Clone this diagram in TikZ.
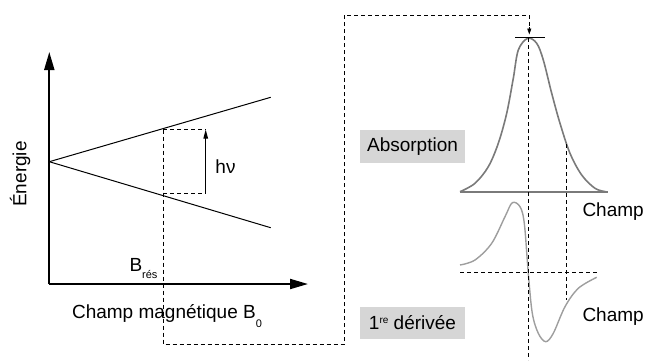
\documentclass[tikz,border=0pt]{standalone}
\usepackage{fontspec}
\setmainfont{Liberation Sans}
\usetikzlibrary{arrows.meta}
\begin{document}
\begin{tikzpicture}[x=1pt,y=-1pt,
  lbl/.style={font=\fontsize{19}{22}\selectfont, inner sep=0pt},
  boxlbl/.style={font=\fontsize{19}{22}\selectfont, fill=black!16, minimum width=105pt, minimum height=32.7pt, inner sep=0pt},
  dsh/.style={dash pattern=on 4pt off 3pt, line width=0.8pt},
  axisline/.style={line width=2pt, -{Triangle[length=18pt,width=10pt]}},
  level/.style={line width=1pt},
  absc/.style={draw=black!52, line width=1.6pt},
  derc/.style={draw=black!38, line width=1.4pt}
]
\useasboundingbox (0,0) rectangle (646,360);

% axes
\coordinate (O) at (49.3,284);
\coordinate (ytop) at (49.3,52);
\coordinate (xend) at (308,284);
\draw[axisline] (O) -- (ytop);
\draw[axisline] (O) -- (xend);

% energy levels
\coordinate (z) at (49.3,161.7);
\coordinate (up) at (270.7,97.3);
\coordinate (lo) at (270.7,227.7);
\draw[level] (z) -- (up);
\draw[level] (z) -- (lo);

% resonance rectangle and h nu arrow
\coordinate (r1) at (163.3,129.5);
\coordinate (r2) at (205.7,129.5);
\coordinate (r3) at (205.7,193.3);
\coordinate (r4) at (163.3,193.3);
\draw[dsh] (r1) -- (r2);
\draw[dsh] (r4) -- (r3);
\draw[line width=1pt, -{Triangle[length=9pt,width=4.5pt]}] (r3) -- (r2);

% dashed connector to the spectrum
\coordinate (c1) at (163.3,344.3);
\coordinate (c2) at (344.3,344.3);
\coordinate (c3) at (344.3,15);
\coordinate (c4) at (529.3,15);
\coordinate (c5) at (529.3,34.5);
\draw[dsh] (r1) -- (c1) -- (c2) -- (c3) -- (c4) -- (c5);
\draw[line width=0.8pt, -{Triangle[length=6pt,width=4pt]}] (529.3,27) -- (c5);

% labels left
\node[lbl, rotate=90] (en) at (20,174) {Énergie};
\node[lbl] (hv) at (225.5,167) {hν};
\node[lbl, anchor=base west] (bres) at (129.3,271.7) {B\raisebox{-6.6pt}{\fontsize{11}{12}\selectfont rés}};
\node[lbl, anchor=base] (champB) at (167,318.3) {Champ magnétique B\raisebox{-9pt}{\fontsize{11}{12}\selectfont 0}};

% absorption curve
\coordinate (b1) at (460,191.7);
\coordinate (b2) at (608.3,191.7);
\draw[draw=black!52, line width=1.6pt] (b1) -- (b2);
\draw[absc] plot[smooth, tension=0.55] coordinates {(460,191.7) (475,183.3) (488.3,166.7) (498.3,143.3) (506.7,113.3) (513.3,78.3) (518.3,50) (527.7,38.3) (536.7,43.3) (543.3,60) (551.7,93.3) (560,123.3) (570,153.3) (581.7,175) (595,188.3) (606,191.7)};
\coordinate (t1) at (515,37.8);
\coordinate (t2) at (545,37.8);
\draw[line width=0.9pt] (t1) -- (t2);

% derivative curve
\coordinate (h1) at (460,272.7);
\coordinate (h2) at (598.3,272.7);
\draw[dsh] (h1) -- (h2);
\draw[derc] plot[smooth, tension=0.55] coordinates {(460,265) (475,260) (491.7,243.3) (505,216.7) (512.3,202.7) (520,206.7) (524.3,223.3) (528.3,273.3) (532.3,313.3) (538.3,333.3) (545.7,341.7) (553.3,333.3) (565,306.7) (578.3,288.3) (596.7,277.3)};

% vertical dashed guides
\coordinate (v1) at (528.5,38);
\coordinate (v2) at (528.5,360);
\coordinate (w1) at (566,144);
\coordinate (w2) at (566,300);
\draw[dsh] (v1) -- (v2);
\draw[dsh] (w1) -- (w2);

% labels right
\node[boxlbl] (abs) at (412.5,146.3) {Absorption};
\node[boxlbl] (der) at (412.5,323) {1\raisebox{6pt}{\fontsize{10}{11}\selectfont re} dérivée};
\node[lbl, anchor=west] (ch1) at (582.3,211.7) {Champ};
\node[lbl, anchor=west] (ch2) at (582.3,316.7) {Champ};
\end{tikzpicture}
\end{document}
